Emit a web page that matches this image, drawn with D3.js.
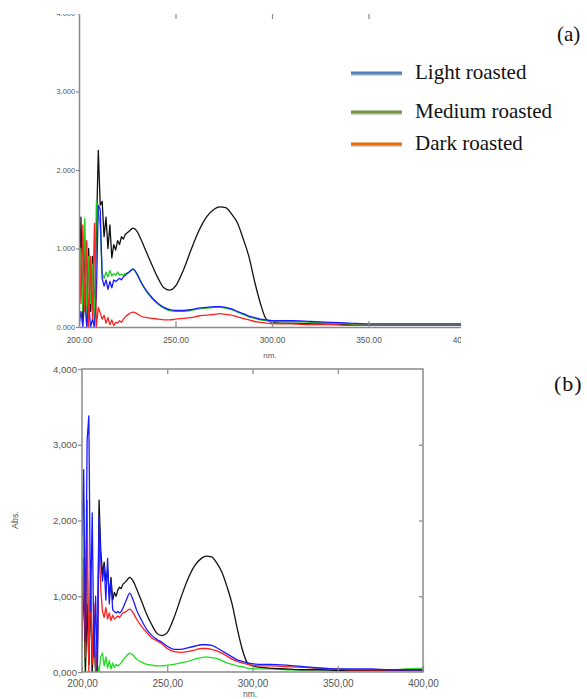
<!DOCTYPE html>
<html>
<head>
<meta charset="utf-8">
<script src="https://cdn.jsdelivr.net/npm/d3@7"></script>
<style>
body { margin: 0; background: #fff; }
</style>
</head>
<body>
<div id="block"></div>
<script>
// wavelength grid (nm), shared by every series
var wavelength = [200,201,202,203,204,205,206,207,208,209,
  210,211,212,213,214,215,216,217,218,219,
  220,221,222,223,224,
  226,228,230,232,235,238,241,244,247,250,
  254,258,262,266,270,273,276,279,282,285,288,291,294,297,300,
  305,310,320,330,340,350,360,370,380,390,400];

// panel (a) absorbance
var refA = [0.3,1.4,0.1,1.1,0.0,1.0,0.2,0.9,0.1,1.2,
  2.25,1.55,1.6,1.15,1.4,1.0,1.3,0.88,1.05,0.98,
  1.1,1.05,1.15,1.12,1.18,
  1.22,1.26,1.22,1.12,0.95,0.78,0.62,0.5,0.47,0.52,
  0.72,0.98,1.22,1.40,1.50,1.53,1.52,1.44,1.33,1.13,0.90,0.58,0.30,0.10,0.06,
  0.05,0.05,0.04,0.04,0.03,0.02,0.02,0.02,0.02,0.02,0.02];
var lightA = [0.0,0.2,0.0,0.4,0.0,0.3,0.0,0.1,0.0,0.4,
  1.55,1.5,0.62,0.52,0.6,0.48,0.58,0.5,0.6,0.58,
  0.6,0.62,0.6,0.64,0.66,
  0.7,0.74,0.68,0.58,0.46,0.37,0.3,0.25,0.22,0.21,
  0.21,0.22,0.24,0.25,0.26,0.26,0.25,0.23,0.2,0.17,0.14,0.12,0.1,0.09,0.08,
  0.08,0.08,0.07,0.06,0.05,0.04,0.04,0.04,0.04,0.04,0.04];
var mediumA = [0.5,1.0,0.2,1.38,0.1,0.9,0.3,0.8,0.0,1.6,
  1.45,1.3,0.68,0.62,0.7,0.64,0.72,0.65,0.68,0.66,
  0.7,0.66,0.67,0.66,0.68,
  0.7,0.73,0.67,0.57,0.45,0.36,0.29,0.24,0.21,0.2,
  0.2,0.21,0.23,0.24,0.25,0.25,0.24,0.22,0.19,0.16,0.13,0.11,0.09,0.08,0.07,
  0.07,0.07,0.06,0.05,0.04,0.03,0.03,0.03,0.03,0.03,0.03];
var darkA = [1.2,0.3,1.3,0.2,1.1,0.0,0.9,0.1,1.32,0.0,
  0.25,0.18,0.1,0.15,0.05,0.12,0.03,0.09,0.02,0.06,
  0.05,0.08,0.06,0.1,0.13,
  0.17,0.19,0.17,0.14,0.12,0.11,0.1,0.09,0.09,0.1,
  0.11,0.12,0.14,0.15,0.16,0.17,0.16,0.15,0.13,0.11,0.09,0.07,0.06,0.05,0.04,
  0.04,0.04,0.03,0.03,0.02,0.02,0.02,0.02,0.02,0.02,0.02];

// panel (b) absorbance
var refB = [0.5,1.15,0.0,0.9,0.1,1.0,0.0,0.6,0.0,0.1,
  2.27,1.6,1.3,1.45,1.2,1.35,1.0,1.25,0.95,1.05,
  1.0,1.08,1.12,1.1,1.16,
  1.2,1.25,1.2,1.1,0.93,0.76,0.62,0.51,0.48,0.52,
  0.72,0.98,1.22,1.40,1.50,1.53,1.52,1.44,1.32,1.13,0.9,0.58,0.3,0.12,0.08,
  0.06,0.05,0.04,0.03,0.03,0.02,0.02,0.02,0.02,0.02,0.02];
var lightB = [1.8,2.67,0.4,3.06,3.38,0.8,2.1,0.2,1.0,0.0,
  2.05,1.5,1.2,1.4,0.95,1.5,0.9,1.2,0.82,0.8,
  0.78,0.8,0.78,0.8,0.84,
  0.95,1.04,0.95,0.82,0.68,0.56,0.48,0.43,0.39,0.34,
  0.3,0.3,0.32,0.34,0.36,0.36,0.35,0.32,0.28,0.24,0.2,0.16,0.14,0.12,0.11,
  0.1,0.1,0.09,0.07,0.05,0.04,0.04,0.04,0.03,0.03,0.03];
var mediumB = [0.3,2.17,0.0,1.5,0.1,1.2,0.0,0.5,0.0,0.1,
  0.0,0.2,0.25,0.08,0.2,0.05,0.15,0.04,0.12,0.06,
  0.1,0.08,0.1,0.12,0.16,
  0.21,0.25,0.22,0.17,0.13,0.1,0.09,0.08,0.08,0.09,
  0.1,0.12,0.14,0.17,0.19,0.2,0.19,0.18,0.15,0.12,0.1,0.08,0.07,0.05,0.04,
  0.04,0.04,0.03,0.03,0.03,0.03,0.03,0.03,0.03,0.04,0.05];
var darkB = [0.4,1.5,0.2,2.27,0.0,1.3,0.1,0.9,0.0,0.3,
  1.74,1.1,0.8,0.72,0.85,0.7,0.78,0.68,0.75,0.7,
  0.72,0.74,0.72,0.75,0.78,
  0.8,0.83,0.78,0.7,0.6,0.52,0.45,0.41,0.37,0.31,
  0.27,0.26,0.27,0.29,0.31,0.31,0.3,0.28,0.25,0.21,0.17,0.14,0.12,0.1,0.09,
  0.08,0.08,0.07,0.06,0.05,0.04,0.03,0.03,0.03,0.03,0.03];

// ticks
var xTickVals = [200, 250, 300, 350, 400];
var yTickVals = [0, 1, 2, 3, 4];
var xLabelsA = ["200.00", "250.00", "300.00", "350.00", "400.00"];
var yLabelsA = ["0.000", "1.000", "2.000", "3.000", "4.000"];
var xLabelsB = ["200,00", "250,00", "300,00", "350,00", "400,00"];
var yLabelsB = ["0,000", "1,000", "2,000", "3,000", "4,000"];

var legendNames = ["Light roasted", "Medium roasted", "Dark roasted"];
var legendColors = ["#4f81bd", "#77933c", "#e46c0a"];

// noisy part is drawn straight, the rest smoothed
var noisyEnd = 24;

var w = 587,
  h = 699;

var svg = d3.select("#block")
          .append("svg")
          .attr("width", w)
          .attr("height", h);

var defs = svg.append("defs");
defs.append("clipPath").attr("id", "panelA")
    .append("rect").attr("x", 0).attr("y", 14).attr("width", 461).attr("height", 350);
defs.append("clipPath").attr("id", "plotA")
    .append("rect").attr("x", 79).attr("y", 14).attr("width", 382).attr("height", 314);
defs.append("clipPath").attr("id", "plotB")
    .append("rect").attr("x", 82).attr("y", 369).attr("width", 341).attr("height", 303);

var grey = "#8a8a8a",
  labelFill = "#555";

function styleAxis(g, size) {
  g.select(".domain").attr("stroke", grey).attr("stroke-width", 1.5);
  g.selectAll(".tick line").attr("stroke", grey).attr("stroke-width", 1.2);
  g.selectAll("text")
   .attr("fill", labelFill)
   .attr("font-family", "Liberation Sans, Arial, sans-serif")
   .attr("font-size", size);
}

function drawCurves(g, x, y, list, clip) {
  var rough = d3.line()
    .x(function(d) { return x(wavelength[d.i]); })
    .y(function(d) { return y(d.v); })
    .curve(d3.curveLinear);
  var smooth = d3.line()
    .x(function(d) { return x(wavelength[d.i]); })
    .y(function(d) { return y(d.v); })
    .curve(d3.curveMonotoneX);
  var cg = g.append("g").attr("clip-path", "url(#" + clip + ")");
  list.forEach(function(s) {
    var pts = s.values.map(function(v, i) { return { i: i, v: v }; });
    cg.append("path")
      .attr("d", rough(pts.slice(0, noisyEnd + 1)) + smooth(pts.slice(noisyEnd)).replace(/^M/, "L"))
      .attr("fill", "none")
      .attr("stroke", s.color)
      .attr("stroke-width", 1.3)
      .attr("stroke-linejoin", "round");
  });
}

// ---------- panel (a) ----------
var xA = d3.scaleLinear().domain([200, 400]).range([79, 465]);
var yA = d3.scaleLinear().domain([0, 4]).range([327, 13]);

var gA = svg.append("g").attr("clip-path", "url(#panelA)");

drawCurves(gA, xA, yA, [
  { values: refA, color: "#111" },
  { values: mediumA, color: "#1fcc1f" },
  { values: lightA, color: "#1a1aff" },
  { values: darkA, color: "#ff2020" }
], "plotA");

gA.append("g")
  .attr("transform", "translate(79,0)")
  .call(d3.axisLeft(yA).tickValues(yTickVals)
        .tickFormat(function(d, i) { return yLabelsA[i]; })
        .tickSizeInner(3).tickSizeOuter(0).tickPadding(1))
  .call(styleAxis, "7.4px");

gA.append("g")
  .attr("transform", "translate(0,327)")
  .call(d3.axisBottom(xA).tickValues(xTickVals)
        .tickFormat(function(d, i) { return xLabelsA[i]; })
        .tickSizeInner(-6).tickSizeOuter(0).tickPadding(10))
  .call(styleAxis, "8.4px");

gA.append("g")
  .attr("transform", "translate(0,13)")
  .call(d3.axisTop(xA).tickValues([250, 300, 350]).tickFormat("")
        .tickSizeInner(-6).tickSizeOuter(0))
  .call(styleAxis, "8px")
  .select(".domain").remove();

gA.append("text")
  .attr("x", 270).attr("y", 358)
  .attr("text-anchor", "middle")
  .attr("fill", labelFill)
  .attr("font-family", "Liberation Sans, Arial, sans-serif")
  .attr("font-size", "8px")
  .text("nm.");

// legend
var legend = svg.append("g");
legendNames.forEach(function(name, i) {
  var ly = [73, 112, 144][i];
  legend.append("line")
    .attr("x1", 351).attr("x2", 402).attr("y1", ly + 1.5).attr("y2", ly + 1.5)
    .attr("stroke", "#999").attr("stroke-opacity", 0.45).attr("stroke-width", 3);
  legend.append("line")
    .attr("x1", 351).attr("x2", 402).attr("y1", ly).attr("y2", ly)
    .attr("stroke", legendColors[i]).attr("stroke-width", 3);
  legend.append("text")
    .attr("x", 415).attr("y", ly + 6)
    .attr("font-family", "Liberation Serif, Times New Roman, serif")
    .attr("font-size", "21px")
    .attr("fill", "#111")
    .text(name);
});

svg.append("text")
  .attr("x", 557).attr("y", 41)
  .attr("font-family", "Liberation Serif, Times New Roman, serif")
  .attr("font-size", "21px").attr("fill", "#111")
  .text("(a)");

// ---------- panel (b) ----------
var xB = d3.scaleLinear().domain([200, 400]).range([82, 423]);
var yB = d3.scaleLinear().domain([0, 4]).range([672, 369]);

var gB = svg.append("g");

drawCurves(gB, xB, yB, [
  { values: mediumB, color: "#1fdd1f" },
  { values: refB, color: "#111" },
  { values: darkB, color: "#ff2020" },
  { values: lightB, color: "#1a1aff" }
], "plotB");

gB.append("rect")
  .attr("x", 82).attr("y", 369)
  .attr("width", 341).attr("height", 303)
  .attr("fill", "none").attr("stroke", grey).attr("stroke-width", 1.5);

gB.append("g")
  .attr("transform", "translate(82,0)")
  .call(d3.axisLeft(yB).tickValues(yTickVals)
        .tickFormat(function(d, i) { return yLabelsB[i]; })
        .tickSizeInner(4).tickSizeOuter(0).tickPadding(1))
  .call(styleAxis, "9.6px")
  .select(".domain").remove();

gB.append("g")
  .attr("transform", "translate(0,672)")
  .call(d3.axisBottom(xB).tickValues(xTickVals)
        .tickFormat(function(d, i) { return xLabelsB[i]; })
        .tickSizeInner(-6).tickSizeOuter(0).tickPadding(8))
  .call(styleAxis, "10px")
  .select(".domain").remove();

gB.append("g")
  .attr("transform", "translate(0,369)")
  .call(d3.axisTop(xB).tickValues([250, 300, 350]).tickFormat("")
        .tickSizeInner(-5).tickSizeOuter(0))
  .call(styleAxis, "8px")
  .select(".domain").remove();

gB.append("g")
  .attr("transform", "translate(423,0)")
  .call(d3.axisRight(yB).tickValues([1, 2, 3]).tickFormat("")
        .tickSizeInner(-4).tickSizeOuter(0))
  .call(styleAxis, "8px")
  .select(".domain").remove();

gB.append("text")
  .attr("transform", "translate(18,520) rotate(-90)")
  .attr("text-anchor", "middle")
  .attr("fill", labelFill)
  .attr("font-family", "Liberation Sans, Arial, sans-serif")
  .attr("font-size", "9px")
  .text("Abs.");

gB.append("text")
  .attr("x", 250).attr("y", 697)
  .attr("text-anchor", "middle")
  .attr("fill", labelFill)
  .attr("font-family", "Liberation Sans, Arial, sans-serif")
  .attr("font-size", "8.5px")
  .text("nm.");

svg.append("text")
  .attr("x", 554).attr("y", 391)
  .attr("font-family", "Liberation Serif, Times New Roman, serif")
  .attr("font-size", "22px").attr("fill", "#111")
  .attr("letter-spacing", "1px")
  .text("(b)");
</script>
</body>
</html>
